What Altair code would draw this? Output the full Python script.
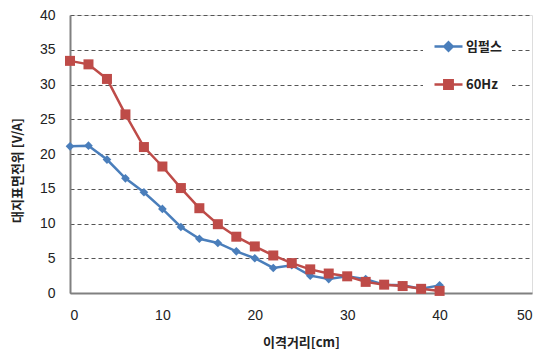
import altair as alt
import pandas as pd

distance = [0, 2, 4, 6, 8, 10, 12, 14, 16, 18, 20, 22, 24, 26, 28, 30, 32, 34, 36, 38, 40]
impulse = [21.1, 21.2, 19.2, 16.5, 14.5, 12.1, 9.5, 7.8, 7.2, 6.0, 5.0, 3.6, 4.0, 2.5, 2.0, 2.4, 2.0, 1.2, 1.1, 0.6, 1.1]
hz60 = [33.4, 32.9, 30.8, 25.7, 21.0, 18.2, 15.1, 12.2, 9.9, 8.1, 6.7, 5.4, 4.3, 3.4, 2.8, 2.4, 1.6, 1.2, 1.0, 0.6, 0.3]
series_names = ["임펄스", "60Hz"]
colors = ["#4A7EBB", "#BE4B48"]

rows = []
for d, a, b in zip(distance, impulse, hz60):
    rows.append({"x": d, "y": a, "s": series_names[0]})
    rows.append({"x": d, "y": b, "s": series_names[1]})
df = pd.DataFrame(rows)

FONT = "Noto Sans CJK KR"

x = alt.X("x:Q", scale=alt.Scale(domain=[0, 50], nice=False),
          axis=alt.Axis(values=[0, 10, 20, 30, 40, 50], title="이격거리[cm]", grid=False,
                        ticks=False, labelPadding=15, titlePadding=14,
                        domainColor="#808080", domainWidth=2,
                        labelFont="Liberation Sans", labelFontSize=14, labelColor="#222",
                        titleFont=FONT, titleFontSize=13, titleFontWeight="bold", titleColor="#222"))
y = alt.Y("y:Q", scale=alt.Scale(domain=[0, 40], nice=False),
          axis=alt.Axis(values=[0, 5, 10, 15, 20, 25, 30, 35, 40], title="대지표면전위 [V/A]",
                        grid=True, gridDash=[4, 3], gridColor="#555", gridWidth=1,
                        ticks=False, labelPadding=15, titlePadding=15, titleY=155,
                        domainColor="#808080", domainWidth=2,
                        labelFont="Liberation Sans", labelFontSize=14, labelColor="#222",
                        titleFont=FONT, titleFontSize=13, titleFontWeight="bold", titleColor="#222"))

line_impulse = alt.Chart(df).transform_filter(alt.datum.s == series_names[0]).mark_line(
    strokeWidth=2.5, color=colors[0]).encode(x=x, y=y)
line_60 = alt.Chart(df).transform_filter(alt.datum.s == series_names[1]).mark_line(
    strokeWidth=2.5, color=colors[1]).encode(x=x, y=y)

diamonds = alt.Chart(df).transform_filter(alt.datum.s == series_names[0]).mark_point(
    shape="diamond", filled=True, opacity=1, size=75, color=colors[0]
).encode(x=x, y=y)

squares = alt.Chart(df).transform_filter(alt.datum.s == series_names[1]).mark_point(
    shape="square", filled=True, opacity=1, size=100, color=colors[1]
).encode(x=x, y=y)

legend_paths = ["M-1,0H1M0,-0.3L0.3,0L0,0.3L-0.3,0Z", "M-1,0H1M-0.3,-0.3H0.3V0.3H-0.3Z"]

legend = alt.Legend(
    title=None, orient="none", legendX=353, legendY=6,
    fillColor="white", padding=10, rowPadding=13,
    symbolSize=784, symbolStrokeWidth=2.5, symbolOpacity=1,
    labelFont=FONT, labelFontSize=13, labelFontWeight="bold", labelColor="#222",
    labelOffset=2,
)

# legend-only layer: its rows are filtered out; the legend comes from the explicit scale domains
legend_layer = alt.Chart(df).transform_filter("datum.x < 0").mark_point(filled=True, strokeWidth=2.5).encode(
    x=x, y=y,
    shape=alt.Shape("s:N", scale=alt.Scale(domain=series_names, range=legend_paths), legend=legend),
    fill=alt.Fill("s:N", scale=alt.Scale(domain=series_names, range=colors)),
    stroke=alt.Stroke("s:N", scale=alt.Scale(domain=series_names, range=colors)),
)

chart = (line_impulse + line_60 + diamonds + squares + legend_layer).properties(
    width=462, height=278,
    autosize=alt.AutoSizeParams(type="none"),
    padding={"left": 62, "top": 7, "right": 8, "bottom": 56},
).configure_view(stroke="black", strokeWidth=2).configure(background="white")

chart.save("out.html", embed_options={"renderer": "svg", "actions": False})
